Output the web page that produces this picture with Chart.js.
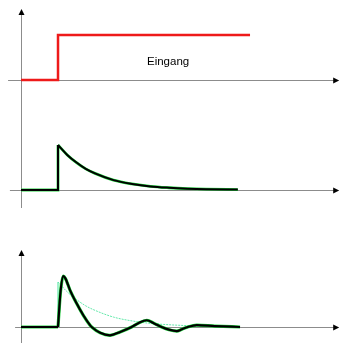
<!DOCTYPE html>
<html>
<head>
<meta charset="utf-8">
<title>Sprungantwort</title>
<script src="https://cdn.jsdelivr.net/npm/chart.js"></script>
<style>
  body { margin: 0; background: #fff; }
  .wrap { position: relative; width: 340px; height: 343px; overflow: hidden; }
  .wrap canvas { position: absolute; left: 0; }
  #p1 { top: 0; }
  #p2 { top: 120px; }
  #p3 { top: 230px; }
  #label { position: absolute; left: 147px; top: 55px; font: 11.5px "Liberation Sans", Arial, sans-serif; color: #000; }
</style>
</head>
<body>
<div class="wrap">
  <canvas id="p1" width="340" height="120"></canvas>
  <canvas id="p2" width="340" height="100"></canvas>
  <canvas id="p3" width="340" height="113"></canvas>
  <div id="label">Eingang</div>
</div>
<script>
// Eingang: Sprung bei t = 1
const inT = [0, 1, 1, 6.19];
const inV = [0, 0, 1, 1];

// Ruhelage vor dem Sprung
const restT = [0, 1];
const restV = [0, 0];
const jumpT = [1, 1];
const jumpV = [0, 1];

// Antwort 1: abklingende Kurve
const decT = [1, 1.25, 1.5, 1.75, 2, 2.5, 3, 3.5, 4, 4.5, 5, 5.86];
const decV = [1, 0.78, 0.61, 0.47, 0.37, 0.22, 0.135, 0.08, 0.05, 0.03, 0.018, 0.01];

// Antwort 2: gedämpfte Schwingung
const oscT = [1, 1.07, 1.143, 1.2, 1.324, 1.505, 1.684, 1.865, 1.91, 2.14, 2.405, 2.68, 2.99,
              3.16, 3.4, 3.6, 3.8, 4.0, 4.21, 4.35, 4.51, 4.75, 5.24, 5.92];
const oscV = [0, 0.8, 1.13, 1.08, 0.82, 0.52, 0.26, 0.04, 0, -0.13, -0.185, -0.11, 0,
              0.08, 0.15, 0.08, 0, -0.06, -0.09, -0.05, 0, 0.04, 0.02, 0];

const pts = (ts, vs) => ts.map((t, i) => ({ x: t, y: vs[i] }));

const RED = '#ee1a1a', BLACK = '#000', GREEN = '#1ed23c', MINT = '#62e8aa';

// order: higher number is drawn first (underneath)
function line(data, color, width, order, opts) {
  return Object.assign({
    data: data, borderColor: color, borderWidth: width, pointRadius: 0,
    fill: false, tension: 0, order: order
  }, opts || {});
}
const smooth = { cubicInterpolationMode: 'monotone' };

const axes = {
  id: 'axes',
  beforeDatasetsDraw(chart, args, o) {
    const { ctx, scales: { x, y } } = chart;
    const y0 = Math.round(y.getPixelForValue(0)) + 0.5;
    const x0 = Math.round(x.getPixelForValue(0)) + 0.5;
    const xs = x.getPixelForValue(o.xFrom), xe = x.getPixelForValue(o.xTo);
    const ys = y.getPixelForValue(o.yTop), ye = y.getPixelForValue(o.yBottom);
    ctx.save();
    ctx.strokeStyle = '#8c8c8c';
    ctx.lineWidth = 1;
    ctx.beginPath();
    ctx.moveTo(xs, y0); ctx.lineTo(xe - 4, y0);
    ctx.moveTo(x0, ye); ctx.lineTo(x0, ys + (o.arrowY ? 4 : 0));
    ctx.stroke();
    ctx.fillStyle = '#000';
    ctx.beginPath();
    ctx.moveTo(xe, y0); ctx.lineTo(xe - 6, y0 - 3); ctx.lineTo(xe - 6, y0 + 3);
    ctx.closePath(); ctx.fill();
    if (o.arrowY) {
      ctx.beginPath();
      ctx.moveTo(x0, ys); ctx.lineTo(x0 - 3, ys + 6); ctx.lineTo(x0 + 3, ys + 6);
      ctx.closePath(); ctx.fill();
    }
    ctx.restore();
  }
};

function makeChart(id, datasets, yMin, yMax, axisOpts) {
  return new Chart(document.getElementById(id), {
    type: 'line',
    data: { datasets: datasets },
    options: {
      responsive: false,
      animation: false,
      layout: { padding: 0 },
      plugins: { legend: { display: false }, tooltip: { enabled: false }, axes: axisOpts },
      scales: {
        x: { type: 'linear', display: false, min: -0.568, max: 8.622 },
        y: { display: false, min: yMin, max: yMax }
      }
    },
    plugins: [axes]
  });
}

// Eingang
makeChart('p1', [
  line(pts(inT, inV), RED, 2.5, 0)
], -0.889, 1.778, { xFrom: -0.35, xTo: 8.6, yTop: 1.58, yBottom: -0.889, arrowY: true });

// Antwort 1
makeChart('p2', [
  line(pts(restT.concat(jumpT), restV.concat(jumpV)), BLACK, 2, 0),
  line(pts(decT, decV), BLACK, 2, 0, smooth),
  line(pts(restT.concat(jumpT), restV.concat(jumpV)), GREEN, 2.8, 1),
  line(pts(decT, decV), GREEN, 2.8, 1, smooth)
], -0.667, 1.556, { xFrom: -0.3, xTo: 8.6, yTop: 1.556, yBottom: -0.4, arrowY: false });

// Antwort 2
makeChart('p3', [
  line(pts(restT, restV), BLACK, 2.2, 0),
  line(pts(oscT, oscV), BLACK, 2.2, 0, smooth),
  line(pts(restT, restV), GREEN, 3.2, 1),
  line(pts(oscT, oscV), GREEN, 3.2, 1, smooth),
  line(pts(jumpT, jumpV), MINT, 1.2, 2),
  line(pts(decT, decV), MINT, 1, 2, Object.assign({ borderDash: [2, 1] }, smooth))
], -0.356, 2.156, { xFrom: -0.16, xTo: 8.6, yTop: 1.71, yBottom: -0.356, arrowY: true });
</script>
</body>
</html>
